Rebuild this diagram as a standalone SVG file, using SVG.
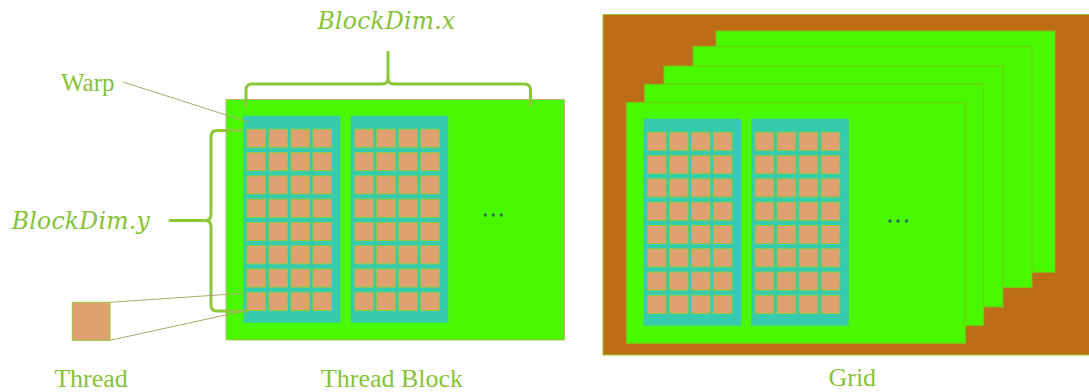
<svg xmlns="http://www.w3.org/2000/svg" xmlns:xlink="http://www.w3.org/1999/xlink" width="1089" height="392" viewBox="0 0 1089 392">
<style>
.lbl{font-family:"Liberation Serif","Times New Roman",serif;fill:#86C236;}
.math{font-family:"DejaVu Serif","Liberation Serif",serif;font-style:italic;fill:#86C236;}
.blk{fill:#48F900;stroke:#BDBB6A;stroke-width:1;}
.gblk{fill:#48F900;stroke:#7CC418;stroke-width:1;}
.warp{fill:#37CBAE;}
.th{fill:#E0A172;stroke:#96C83A;stroke-width:1;}
.brace{fill:none;stroke:#8CC83A;stroke-width:3;stroke-linecap:round;stroke-linejoin:round;}
.lead{fill:none;stroke:#ADA86E;stroke-width:1;}
.dot{fill:#2A6E55;}
</style>
<defs>
<g id="warpcol">
<rect class="warp" x="0" y="0" width="97.5" height="207"/>
<g id="throw">
<rect class="th" x="4" y="13.6" width="18.5" height="18"/>
<rect class="th" x="26" y="13.6" width="18.5" height="18"/>
<rect class="th" x="48" y="13.6" width="18.5" height="18"/>
<rect class="th" x="70" y="13.6" width="18.5" height="18"/>
</g>
<use xlink:href="#throw" href="#throw" y="23.3"/>
<use xlink:href="#throw" href="#throw" y="46.6"/>
<use xlink:href="#throw" href="#throw" y="69.9"/>
<use xlink:href="#throw" href="#throw" y="93.2"/>
<use xlink:href="#throw" href="#throw" y="116.5"/>
<use xlink:href="#throw" href="#throw" y="139.8"/>
<use xlink:href="#throw" href="#throw" y="163.1"/>
</g>
</defs>

<g id="thread-block">
<rect class="blk" x="226" y="99.5" width="338.5" height="240.5"/>
<use xlink:href="#warpcol" href="#warpcol" x="243" y="115.7"/>
<use xlink:href="#warpcol" href="#warpcol" x="350.8" y="115.7"/>
<circle class="dot" cx="485.3" cy="215" r="1.7"/>
<circle class="dot" cx="493.3" cy="215" r="1.7"/>
<circle class="dot" cx="501.3" cy="215" r="1.7"/>
</g>

<g id="grid">
<rect x="603" y="14.5" width="490" height="340.5" fill="#BD6D15" stroke="#9ACD32" stroke-width="1"/>
<rect class="gblk" x="716" y="31" width="339" height="241.3"/>
<rect class="gblk" x="693" y="46.3" width="339" height="241.3"/>
<rect class="gblk" x="664" y="66" width="339" height="241"/>
<rect class="gblk" x="644.7" y="84.3" width="339" height="241.3"/>
<rect class="gblk" x="626.3" y="102.3" width="339" height="241"/>
<use xlink:href="#warpcol" href="#warpcol" x="643.5" y="118.7"/>
<use xlink:href="#warpcol" href="#warpcol" x="751.2" y="118.7"/>
<circle class="dot" cx="890" cy="221" r="1.7"/>
<circle class="dot" cx="898" cy="221" r="1.7"/>
<circle class="dot" cx="906.5" cy="221" r="1.7"/>
</g>

<g id="thread">
<rect class="th" x="72.3" y="302.3" width="37.7" height="38"/>
</g>

<g id="connectors">
<path class="brace" d="M246,106 L246,90 Q246,84 252,84 L382,84 Q388,84 388,78 L388,52 M388,78 Q388,84 394,84 L524,84 Q530.5,84 530.5,90 L530.5,106"/>
<path class="brace" d="M241.5,130.5 L217,130.5 Q211,130.5 211,136.5 L211,214.5 Q211,220.5 205,220.5 L170,220.5 M205,220.5 Q211,220.5 211,226.5 L211,305 Q211,311 217,311 L246.5,311"/>
<path class="lead" d="M123,82 L249,122.3"/>
<path class="lead" d="M110,302.3 L243,293.3"/>
<path class="lead" d="M110,340.3 L245.5,310.7"/>
</g>

<g id="labels">
<text class="math" x="317.6" y="28.5" font-size="23.5" textLength="137.5" lengthAdjust="spacing">BlockDim.x</text>
<text class="math" x="11.7" y="228.5" font-size="23.5" textLength="138" lengthAdjust="spacing">BlockDim.y</text>
<text class="lbl" x="61" y="90.7" font-size="25">Warp</text>
<text class="lbl" x="91" y="386.5" font-size="26" text-anchor="middle">Thread</text>
<text class="lbl" x="392" y="386.5" font-size="26" text-anchor="middle">Thread Block</text>
<text class="lbl" x="852.3" y="385.5" font-size="26" text-anchor="middle">Grid</text>
</g>
</svg>
